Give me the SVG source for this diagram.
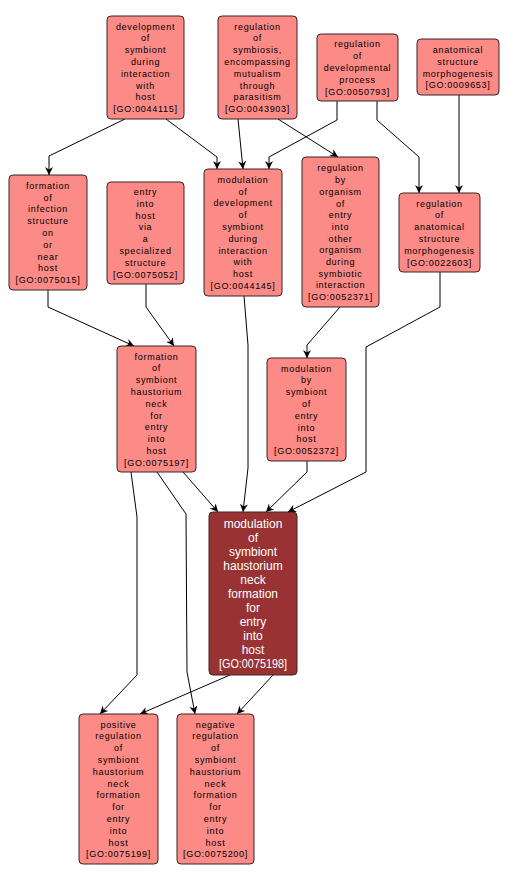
<svg xmlns="http://www.w3.org/2000/svg" width="509" height="882" viewBox="0 0 509 882">
<style>
.n rect{fill:#fc8a86;stroke:#3a2424;stroke-width:1}
.n text{font-family:"Liberation Sans",Arial,sans-serif;font-size:9px;letter-spacing:0.7px;fill:#000;text-anchor:middle}
.m rect{fill:#993333;stroke:#3a2424;stroke-width:1}
.m text{font-family:"Liberation Sans",Arial,sans-serif;font-size:12px;fill:#fff;text-anchor:middle}
.e polyline{fill:none;stroke:#000;stroke-width:1;marker-end:url(#ah)}
</style>
<defs>
<marker id="ah" markerUnits="userSpaceOnUse" markerWidth="9" markerHeight="9" refX="8" refY="4" orient="auto">
<path d="M0,0 L8,4 L0,8 L2.5,4 z" fill="#000"/>
</marker>
</defs>
<rect width="509" height="882" fill="#fff"/>
<g class="e" id="edges">
<polyline points="125,119 49,156 49,175"/>
<polyline points="166,119 217,157 217,169"/>
<polyline points="238,119 243,169"/>
<polyline points="278,119 338,157"/>
<polyline points="337,101 337,120 269,157 269,169"/>
<polyline points="377,101 377,120 419,157 419,193"/>
<polyline points="459,95 459,193"/>
<polyline points="48,290 48,307 134,346"/>
<polyline points="146,284 146,307 174,346"/>
<polyline points="340,307 307,345 307,358"/>
<polyline points="244,296 248,345 248,468 243,512"/>
<polyline points="183,472 218,512"/>
<polyline points="307,461 307,472 266,512"/>
<polyline points="440,272 440,307 366,347 366,472 288,512"/>
<polyline points="131,472 137,517 137,675 100,714"/>
<polyline points="157,472 186,514 187,672 195,714"/>
<polyline points="230,675 140,714"/>
<polyline points="273,675 237,714"/>
</g>
<g class="n" id="GO0044115">
<rect x="107" y="16" width="77" height="103" rx="4"/>
<text x="145.5" y="29.5"><tspan x="145.5">development</tspan><tspan x="145.5" dy="11.8">of</tspan><tspan x="145.5" dy="11.8">symbiont</tspan><tspan x="145.5" dy="11.8">during</tspan><tspan x="145.5" dy="11.8">interaction</tspan><tspan x="145.5" dy="11.8">with</tspan><tspan x="145.5" dy="11.8">host</tspan><tspan x="145.5" dy="11.8">[GO:0044115]</tspan></text>
</g>
<g class="n" id="GO0043903">
<rect x="218" y="16" width="79" height="103" rx="4"/>
<text x="257.5" y="29.5"><tspan x="257.5">regulation</tspan><tspan x="257.5" dy="11.8">of</tspan><tspan x="257.5" dy="11.8">symbiosis,</tspan><tspan x="257.5" dy="11.8">encompassing</tspan><tspan x="257.5" dy="11.8">mutualism</tspan><tspan x="257.5" dy="11.8">through</tspan><tspan x="257.5" dy="11.8">parasitism</tspan><tspan x="257.5" dy="11.8">[GO:0043903]</tspan></text>
</g>
<g class="n" id="GO0050793">
<rect x="317" y="34" width="81" height="67" rx="4"/>
<text x="357.5" y="47.4"><tspan x="357.5">regulation</tspan><tspan x="357.5" dy="11.8">of</tspan><tspan x="357.5" dy="11.8">developmental</tspan><tspan x="357.5" dy="11.8">process</tspan><tspan x="357.5" dy="11.8">[GO:0050793]</tspan></text>
</g>
<g class="n" id="GO0009653">
<rect x="417" y="39" width="82" height="56" rx="4"/>
<text x="458" y="53"><tspan x="458">anatomical</tspan><tspan x="458" dy="11.8">structure</tspan><tspan x="458" dy="11.8">morphogenesis</tspan><tspan x="458" dy="11.8">[GO:0009653]</tspan></text>
</g>
<g class="n" id="GO0075015">
<rect x="9" y="175" width="78" height="115" rx="4"/>
<text x="48" y="188.8"><tspan x="48">formation</tspan><tspan x="48" dy="11.8">of</tspan><tspan x="48" dy="11.8">infection</tspan><tspan x="48" dy="11.8">structure</tspan><tspan x="48" dy="11.8">on</tspan><tspan x="48" dy="11.8">or</tspan><tspan x="48" dy="11.8">near</tspan><tspan x="48" dy="11.8">host</tspan><tspan x="48" dy="11.8">[GO:0075015]</tspan></text>
</g>
<g class="n" id="GO0075052">
<rect x="107" y="182" width="77" height="102" rx="4"/>
<text x="145.5" y="195"><tspan x="145.5">entry</tspan><tspan x="145.5" dy="11.8">into</tspan><tspan x="145.5" dy="11.8">host</tspan><tspan x="145.5" dy="11.8">via</tspan><tspan x="145.5" dy="11.8">a</tspan><tspan x="145.5" dy="11.8">specialized</tspan><tspan x="145.5" dy="11.8">structure</tspan><tspan x="145.5" dy="11.8">[GO:0075052]</tspan></text>
</g>
<g class="n" id="GO0044145">
<rect x="204" y="169" width="78" height="127" rx="4"/>
<text x="243" y="182.8"><tspan x="243">modulation</tspan><tspan x="243" dy="11.8">of</tspan><tspan x="243" dy="11.8">development</tspan><tspan x="243" dy="11.8">of</tspan><tspan x="243" dy="11.8">symbiont</tspan><tspan x="243" dy="11.8">during</tspan><tspan x="243" dy="11.8">interaction</tspan><tspan x="243" dy="11.8">with</tspan><tspan x="243" dy="11.8">host</tspan><tspan x="243" dy="11.8">[GO:0044145]</tspan></text>
</g>
<g class="n" id="GO0052371">
<rect x="302" y="157" width="77" height="150" rx="4"/>
<text x="340.5" y="171.4"><tspan x="340.5">regulation</tspan><tspan x="340.5" dy="11.7">by</tspan><tspan x="340.5" dy="11.7">organism</tspan><tspan x="340.5" dy="11.7">of</tspan><tspan x="340.5" dy="11.7">entry</tspan><tspan x="340.5" dy="11.7">into</tspan><tspan x="340.5" dy="11.7">other</tspan><tspan x="340.5" dy="11.7">organism</tspan><tspan x="340.5" dy="11.7">during</tspan><tspan x="340.5" dy="11.7">symbiotic</tspan><tspan x="340.5" dy="11.7">interaction</tspan><tspan x="340.5" dy="11.7">[GO:0052371]</tspan></text>
</g>
<g class="n" id="GO0022603">
<rect x="399" y="193" width="81" height="79" rx="4"/>
<text x="439.5" y="206.5"><tspan x="439.5">regulation</tspan><tspan x="439.5" dy="11.8">of</tspan><tspan x="439.5" dy="11.8">anatomical</tspan><tspan x="439.5" dy="11.8">structure</tspan><tspan x="439.5" dy="11.8">morphogenesis</tspan><tspan x="439.5" dy="11.8">[GO:0022603]</tspan></text>
</g>
<g class="n" id="GO0075197">
<rect x="117" y="346" width="79" height="126" rx="4"/>
<text x="156.5" y="359.5"><tspan x="156.5">formation</tspan><tspan x="156.5" dy="11.8">of</tspan><tspan x="156.5" dy="11.8">symbiont</tspan><tspan x="156.5" dy="11.8">haustorium</tspan><tspan x="156.5" dy="11.8">neck</tspan><tspan x="156.5" dy="11.8">for</tspan><tspan x="156.5" dy="11.8">entry</tspan><tspan x="156.5" dy="11.8">into</tspan><tspan x="156.5" dy="11.8">host</tspan><tspan x="156.5" dy="11.8">[GO:0075197]</tspan></text>
</g>
<g class="n" id="GO0052372">
<rect x="267" y="358" width="79" height="103" rx="4"/>
<text x="306.5" y="371.6"><tspan x="306.5">modulation</tspan><tspan x="306.5" dy="11.8">by</tspan><tspan x="306.5" dy="11.8">symbiont</tspan><tspan x="306.5" dy="11.8">of</tspan><tspan x="306.5" dy="11.8">entry</tspan><tspan x="306.5" dy="11.8">into</tspan><tspan x="306.5" dy="11.8">host</tspan><tspan x="306.5" dy="11.8">[GO:0052372]</tspan></text>
</g>
<g class="m" id="GO0075198">
<rect x="209" y="512" width="88" height="163" rx="4"/>
<text x="253" y="527.8"><tspan x="253">modulation</tspan><tspan x="253" dy="14">of</tspan><tspan x="253" dy="14">symbiont</tspan><tspan x="253" dy="14">haustorium</tspan><tspan x="253" dy="14">neck</tspan><tspan x="253" dy="14">formation</tspan><tspan x="253" dy="14">for</tspan><tspan x="253" dy="14">entry</tspan><tspan x="253" dy="14">into</tspan><tspan x="253" dy="14">host</tspan><tspan x="253" dy="14" textLength="68" lengthAdjust="spacingAndGlyphs">[GO:0075198]</tspan></text>
</g>
<g class="n" id="GO0075199">
<rect x="79" y="714" width="79" height="150" rx="4"/>
<text x="118.5" y="727.6"><tspan x="118.5">positive</tspan><tspan x="118.5" dy="11.8">regulation</tspan><tspan x="118.5" dy="11.8">of</tspan><tspan x="118.5" dy="11.8">symbiont</tspan><tspan x="118.5" dy="11.8">haustorium</tspan><tspan x="118.5" dy="11.8">neck</tspan><tspan x="118.5" dy="11.8">formation</tspan><tspan x="118.5" dy="11.8">for</tspan><tspan x="118.5" dy="11.8">entry</tspan><tspan x="118.5" dy="11.8">into</tspan><tspan x="118.5" dy="11.8">host</tspan><tspan x="118.5" dy="11.8">[GO:0075199]</tspan></text>
</g>
<g class="n" id="GO0075200">
<rect x="177" y="714" width="77" height="150" rx="4"/>
<text x="215.5" y="727.6"><tspan x="215.5">negative</tspan><tspan x="215.5" dy="11.8">regulation</tspan><tspan x="215.5" dy="11.8">of</tspan><tspan x="215.5" dy="11.8">symbiont</tspan><tspan x="215.5" dy="11.8">haustorium</tspan><tspan x="215.5" dy="11.8">neck</tspan><tspan x="215.5" dy="11.8">formation</tspan><tspan x="215.5" dy="11.8">for</tspan><tspan x="215.5" dy="11.8">entry</tspan><tspan x="215.5" dy="11.8">into</tspan><tspan x="215.5" dy="11.8">host</tspan><tspan x="215.5" dy="11.8">[GO:0075200]</tspan></text>
</g>
</svg>
